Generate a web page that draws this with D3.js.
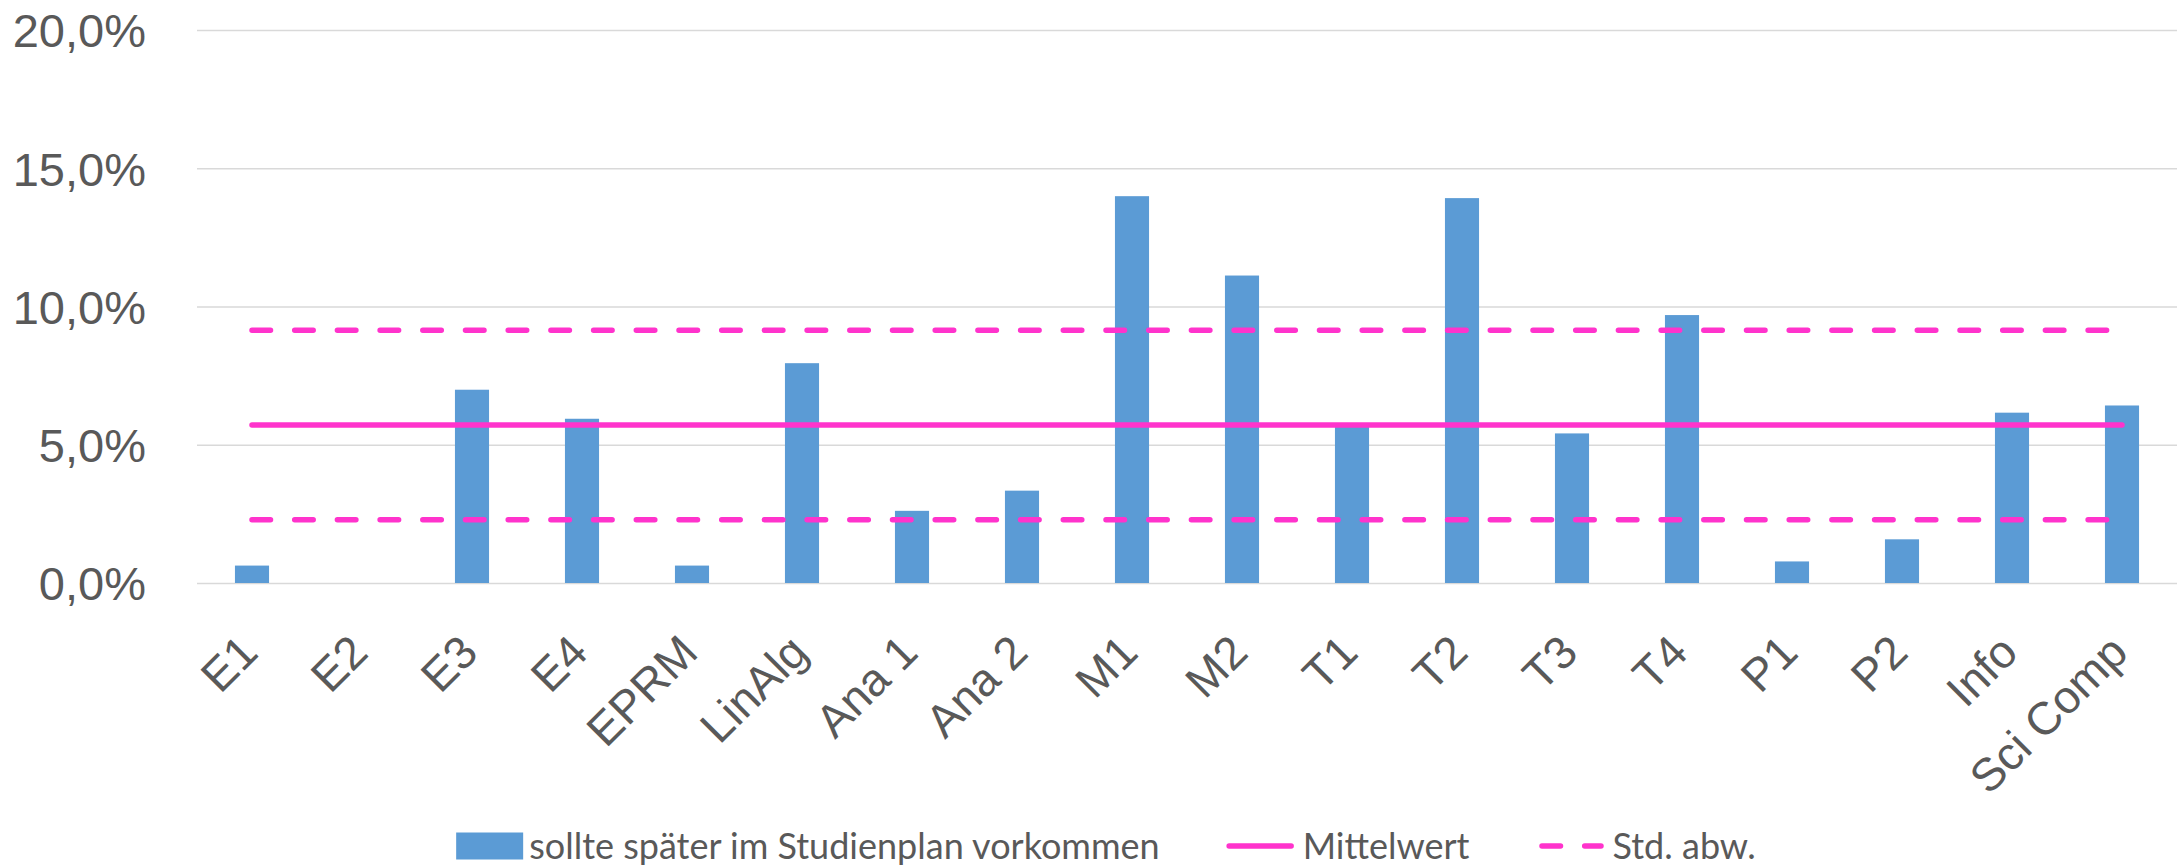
<!DOCTYPE html>
<html>
<head>
<meta charset="utf-8">
<script src="https://cdn.jsdelivr.net/npm/d3@7"></script>
<style>
  body { margin: 0; background: #fff; }
  svg { display: block; font-family: Lato, "Open Sans", sans-serif; }
</style>
</head>
<body>
<svg id="chart"></svg>
<script>
// Anteil je Modul (in %)
const categories = ['E1', 'E2', 'E3', 'E4', 'EPRM', 'LinAlg', 'Ana 1', 'Ana 2', 'M1', 'M2',
  'T1', 'T2', 'T3', 'T4', 'P1', 'P2', 'Info', 'Sci Comp'];
const shares = [0.63, 0, 6.99, 5.94, 0.63, 7.95, 2.61, 3.34, 13.99, 11.12,
  5.66, 13.92, 5.41, 9.69, 0.78, 1.58, 6.16, 6.42];
const mittelwert = 5.71;
const stdOben = 9.14;
const stdUnten = 2.29;
const yTicks = [0, 5, 10, 15, 20];
const legendLabels = ['sollte später im Studienplan vorkommen', 'Mittelwert', 'Std. abw.'];

class ModuleBarChart {
  constructor(_config) {
    this.config = {
      parentElement: _config.parentElement,
      containerWidth: _config.containerWidth || 2183,
      containerHeight: _config.containerHeight || 868,
      margin: _config.margin || { top: 30, right: 6, bottom: 285, left: 197 }
    };
    this.initVis();
  }

  initVis() {
    let vis = this;

    vis.width = vis.config.containerWidth - vis.config.margin.left - vis.config.margin.right;
    vis.height = vis.config.containerHeight - vis.config.margin.top - vis.config.margin.bottom;

    vis.xScale = d3.scaleBand()
      .domain(categories)
      .range([0, vis.width])
      .paddingInner(0.69)
      .paddingOuter(0.345);

    vis.yScale = d3.scaleLinear()
      .domain([0, 20])
      .range([vis.height, 0]);

    const de = d3.formatLocale({ decimal: ',', thousands: '.', grouping: [3], currency: ['', '€'] });
    const fmt = de.format('.1f');

    vis.yAxis = d3.axisLeft(vis.yScale)
      .tickValues(yTicks)
      .tickSize(-vis.width)
      .tickPadding(51)
      .tickFormat(d => fmt(d) + '%');

    vis.xAxis = d3.axisBottom(vis.xScale)
      .tickSize(0);

    vis.svg = d3.select(vis.config.parentElement)
      .attr('width', vis.config.containerWidth)
      .attr('height', vis.config.containerHeight);

    vis.chart = vis.svg.append('g')
      .attr('transform', `translate(${vis.config.margin.left},${vis.config.margin.top})`);

    vis.yAxisGroup = vis.chart.append('g').attr('class', 'axis y-axis');
    vis.xAxisGroup = vis.chart.append('g').attr('class', 'axis x-axis')
      .attr('transform', `translate(0,${vis.height})`);

    vis.renderVis();
  }

  renderVis() {
    let vis = this;
    const bw = vis.xScale.bandwidth();

    // gridlines + y labels
    vis.yAxisGroup.call(vis.yAxis);
    vis.yAxisGroup.select('.domain').remove();
    vis.yAxisGroup.selectAll('line')
      .attr('stroke', '#d9d9d9')
      .attr('stroke-width', 1.6);
    vis.yAxisGroup.selectAll('text')
      .attr('fill', '#595959')
      .style('font-size', '47px')
      .attr('dy', '0.36em');

    // bars
    vis.chart.selectAll('.bar')
      .data(shares)
      .join('rect')
      .attr('class', 'bar')
      .attr('x', (d, i) => vis.xScale(categories[i]))
      .attr('y', d => vis.yScale(d))
      .attr('width', bw)
      .attr('height', d => vis.height - vis.yScale(d))
      .attr('fill', '#5b9bd5');

    // x labels
    vis.xAxisGroup.call(vis.xAxis);
    vis.xAxisGroup.select('.domain').remove();
    vis.xAxisGroup.selectAll('text')
      .attr('fill', '#595959')
      .style('font-size', '46px')
      .style('text-anchor', 'end')
      .attr('x', 8)
      .attr('y', 72)
      .attr('dy', 0)
      .attr('transform', 'rotate(-45, 8, 72)');

    // mean and std lines
    const lineAt = v => d3.line()
      .x(d => vis.xScale(d) + bw / 2)
      .y(() => vis.yScale(v))(categories);

    vis.chart.append('path')
      .attr('d', lineAt(mittelwert))
      .attr('fill', 'none')
      .attr('stroke', '#ff33cc')
      .attr('stroke-width', 5.5)
      .attr('stroke-linecap', 'round');

    [stdOben, stdUnten].forEach(v => {
      vis.chart.append('path')
        .attr('d', lineAt(v))
        .attr('fill', 'none')
        .attr('stroke', '#ff33cc')
        .attr('stroke-width', 5.5)
        .attr('stroke-linecap', 'round')
        .attr('stroke-dasharray', '18.5,24.2');
    });

    // legend
    const legend = vis.svg.append('g').attr('transform', 'translate(0,846)');
    const addText = (x, s) => legend.append('text')
      .attr('x', x)
      .attr('dy', '0.35em')
      .attr('fill', '#595959')
      .style('font-size', '36px')
      .text(s);

    let x = 0;
    legend.append('rect')
      .attr('x', x).attr('y', -13.5)
      .attr('width', 67).attr('height', 27)
      .attr('fill', '#5b9bd5');
    const t1 = addText(x + 73, legendLabels[0]);
    x += 73 + t1.node().getComputedTextLength() + 67;
    legend.append('line')
      .attr('x1', x + 2.5).attr('x2', x + 64.5)
      .attr('stroke', '#ff33cc').attr('stroke-width', 5.5).attr('stroke-linecap', 'round');
    const t2 = addText(x + 76, legendLabels[1]);
    x += 76 + t2.node().getComputedTextLength() + 70;
    legend.append('line')
      .attr('x1', x + 2.5).attr('x2', x + 61.5)
      .attr('stroke', '#ff33cc').attr('stroke-width', 5.5).attr('stroke-linecap', 'round')
      .attr('stroke-dasharray', '18.5,24.2');
    const t3 = addText(x + 73, legendLabels[2]);
    x += 73 + t3.node().getComputedTextLength();

    legend.attr('transform', `translate(${1106 - x / 2},846)`);
  }
}

new ModuleBarChart({ parentElement: '#chart' });
</script>
</body>
</html>
